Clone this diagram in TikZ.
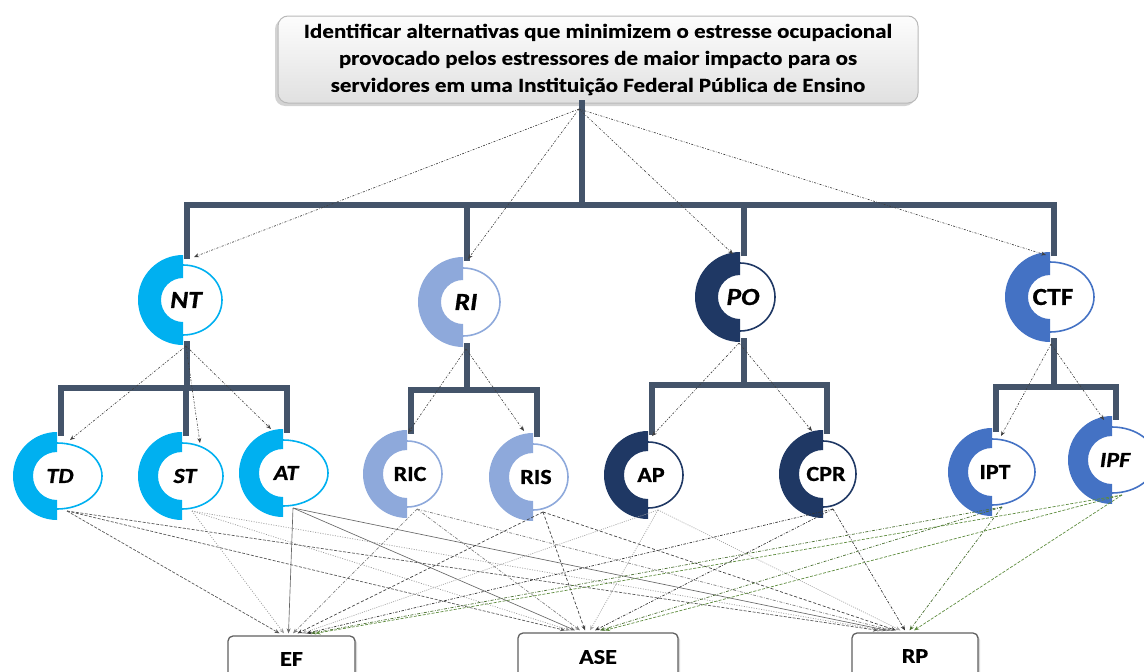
\documentclass[tikz,border=0pt]{standalone}
\usepackage{fontspec}
\setmainfont{Carlito}
\newfontfamily\widefont{Carlito}[FakeStretch=1.15, BoldFeatures={FakeBold=0.4}]
\newfontfamily\lblfont{Carlito}[FakeStretch=1.12, BoldFeatures={FakeBold=0.8}, BoldItalicFeatures={FakeBold=0.8}]
\usetikzlibrary{arrows.meta,shadows,calc}

\definecolor{trunkc}{HTML}{44546A}
\definecolor{cNT}{HTML}{00B0F0}
\definecolor{cRI}{HTML}{8EA9DB}
\definecolor{cPO}{HTML}{1F3864}
\definecolor{cCTF}{HTML}{4472C4}
\definecolor{lkgreen}{HTML}{5E8C3E}

\newcommand{\lvone}{\lblfont\fontsize{24.5}{24.5}\selectfont\bfseries}
\newcommand{\lvtwo}{\lblfont\fontsize{21.5}{21.5}\selectfont\bfseries}

% #1 name, #2 cx, #3 cy, #4 colour, #5 label, #6 x radius of the right half,
% #7 y radius of the right half, #8 outer radius of the crescent, #9 inner radius
\newcommand{\stressnode}[9]{%
  \fill[white] (#2,#3-#7) arc[start angle=-90,end angle=90,x radius=#6,y radius=#7] -- cycle;
  \draw[#4, line width=1.6pt] (#2,#3-#7) arc[start angle=-90,end angle=90,x radius=#6,y radius=#7];
  \fill[#4] (#2,#3-#8) arc[start angle=-90,end angle=-270,radius=#8]
        -- (#2,#3+#9) arc[start angle=90,end angle=270,radius=#9] -- cycle;
  \node[inner sep=0pt] (#1) at (#2+3,#3) {#5};
  \coordinate (#1-top) at (#2+4,#3-#8+4);
  \coordinate (#1-bot) at (#2+4,#3+#8-4);
  \coordinate (#1-out) at (#2+10,#3+#7+2);
}

\tikzset{
  trunk/.style={trunkc, line width=6pt},
  goalbox/.style={rounded corners=10pt, draw=gray!55, line width=1pt,
    top color=gray!2, bottom color=gray!24, align=center,
    minimum width=640pt, minimum height=87pt, inner sep=0pt,
    font=\widefont\fontsize{20}{27}\selectfont\bfseries,
    drop shadow={shadow xshift=-3pt, shadow yshift=-3pt, opacity=0.35}},
  optbox/.style={rounded corners=5pt, draw=gray!75!black, line width=1.3pt,
    fill=white, inner sep=0pt, font=\widefont\fontsize{21}{21}\selectfont\bfseries,
    drop shadow={shadow xshift=2pt, shadow yshift=-2pt, opacity=0.3}},
  tip/.style={-{Stealth[length=5pt,width=4pt]}},
  treelink/.style={tip, black!75, line width=0.65pt, dash pattern=on 2pt off 1.5pt on 0.6pt off 1.5pt},
  lkTD/.style={tip, black!65, line width=0.7pt, dash pattern=on 3pt off 1.5pt},
  lkST/.style={tip, black!40, line width=0.7pt, dash pattern=on 1pt off 1.5pt},
  lkAT/.style={tip, black!60, line width=0.65pt},
  lkRIC/.style={tip, black!50, line width=0.7pt, dash pattern=on 3pt off 1.5pt on 0.8pt off 1.5pt},
  lkRIS/.style={tip, black!75, line width=0.7pt, dash pattern=on 3pt off 2pt},
  lkAP/.style={tip, black!35, line width=0.7pt, dash pattern=on 1pt off 1.2pt},
  lkCPR/.style={tip, black!80, line width=0.7pt, dash pattern=on 2.5pt off 1.5pt on 0.8pt off 1.5pt},
  lkIPT/.style={tip, lkgreen!80!black, line width=0.7pt, dash pattern=on 3pt off 1.5pt on 0.8pt off 1.5pt},
  lkIPF/.style={tip, lkgreen, line width=0.7pt, dash pattern=on 3pt off 1.5pt},
}

\begin{document}
\begin{tikzpicture}[x=1pt, y=-1pt]
\path[use as bounding box, clip] (0,0) rectangle (1144,672);

% goal of the hierarchy
\node[goalbox] (goal) at (598,59.5)
  {Identificar alternativas que minimizem o estresse ocupacional\\
   provocado pelos estressores de maior impacto para os\\
   servidores em uma Instituição Federal Pública de Ensino};
\coordinate (goal-stem) at (582,100);
\coordinate (goal-out) at (579,109);

% criteria
\stressnode{NT}{183}{300}{cNT}{\lvone\itshape NT}{39}{35}{45}{22}
\stressnode{RI}{463}{302}{cRI}{\lvone\itshape RI}{37}{34}{45}{22}
\stressnode{PO}{740}{297}{cPO}{\lvone\itshape PO}{35}{34}{45}{22}
\stressnode{CTF}{1050}{297}{cCTF}{\lvone CTF}{44}{35}{45}{22}

% sub-criteria
\stressnode{TD}{57}{476}{cNT}{\lvtwo\itshape TD}{45}{33}{44}{24}
\stressnode{ST}{182}{476}{cNT}{\lvtwo\itshape ST}{41}{33}{44}{24}
\stressnode{AT}{283}{473}{cNT}{\lvtwo\itshape AT}{45}{33}{44}{24}
\stressnode{RIC}{407}{474}{cRI}{\lvtwo RIC}{35}{33}{44}{24}
\stressnode{RIS}{533}{477}{cRI}{\lvtwo RIS}{35}{33}{44}{24}
\stressnode{AP}{648}{475}{cPO}{\lvtwo AP}{35}{33}{44}{24}
\stressnode{CPR}{823}{474}{cPO}{\lvtwo CPR}{33}{33}{44}{24}
\stressnode{IPT}{992}{472}{cCTF}{\lvtwo IPT}{43}{33}{44}{24}
\stressnode{IPF}{1112}{460}{cCTF}{\lvtwo\itshape IPF}{44}{33}{44}{24}

% alternatives
\node[optbox, minimum width=127pt, minimum height=46pt] (EF) at (291.5,659) {EF};
\node[optbox, minimum width=160pt, minimum height=48pt] (ASE) at (598,657) {ASE};
\node[optbox, minimum width=126pt, minimum height=46pt] (RP) at (915,656) {RP};

% hierarchy trunk
\draw[trunk] (goal-stem) -- ++(0,105) coordinate (hub);
\foreach \n in {NT,RI,PO,CTF}
  \draw[trunk, line join=miter] (hub) -| (\n-top);
\draw[trunk] (NT-bot) -- ++(0,47) coordinate (NT-hub);
\foreach \n in {TD,ST,AT} \draw[trunk] (NT-hub) -| (\n-top);
\draw[trunk] (RI-bot) -- ++(0,47) coordinate (RI-hub);
\foreach \n in {RIC,RIS} \draw[trunk] (RI-hub) -| (\n-top);
\draw[trunk] (PO-bot) -- ++(0,47) coordinate (PO-hub);
\foreach \n in {AP,CPR} \draw[trunk] (PO-hub) -| (\n-top);
\draw[trunk] (CTF-bot) -- ++(0,49) coordinate (CTF-hub);
\foreach \n in {IPT,IPF} \draw[trunk] (CTF-hub) -| (\n-top);

% entry points of the dotted links
\coordinate (NT-in) at (194,257);
\coordinate (RI-in) at (468,259);
\coordinate (PO-in) at (733,254);
\coordinate (CTF-in) at (1046,255);
\coordinate (NT-src) at (186,346);
\coordinate (RI-src) at (466,349);
\coordinate (PO-src) at (739,343);
\coordinate (CTF-src) at (1051,344);
\coordinate (TD-in) at (70,440);
\coordinate (ST-in) at (200,443);
\coordinate (AT-in) at (271,429);
\coordinate (RIC-in) at (408,433);
\coordinate (RIS-in) at (524,431);
\coordinate (AP-in) at (652,436);
\coordinate (CPR-in) at (812,431);
\coordinate (IPT-in) at (1001,436);
\coordinate (IPF-in) at (1104,420);

% goal -> criteria
\foreach \n in {NT,RI,PO,CTF} \draw[treelink] (goal-out) -- (\n-in);
% criteria -> sub-criteria
\foreach \p/\c in {NT/TD,NT/ST,NT/AT,RI/RIC,RI/RIS,PO/AP,PO/CPR,CTF/IPT,CTF/IPF}
  \draw[treelink] (\p-src) -- (\c-in);

% sub-criteria -> alternatives
\foreach \s [count=\i from 0] in {TD,ST,AT,RIC,RIS,AP,CPR,IPT,IPF}
  \foreach \t/\b/\d in {EF/-12/4.5, ASE/-33/5, RP/-37/4.5}
    \draw[lk\s] (\s-out) -- ($(\t.north)+(\b+\d*\i,-2)$);
\end{tikzpicture}
\end{document}
